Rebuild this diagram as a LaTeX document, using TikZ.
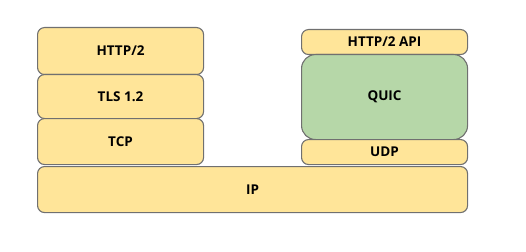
\documentclass[tikz,border=0pt]{standalone}
\usepackage{fontspec}
\setmainfont{Open Sans}
\usepackage{xcolor}
\definecolor{layeryellow}{HTML}{FFE599}
\definecolor{layergreen}{HTML}{B6D7A8}
\definecolor{layerline}{HTML}{707070}
\tikzset{
    layerbox/.style={draw=layerline, line width=1.1pt, rounded corners=7pt, fill=layeryellow, anchor=north west, inner sep=0pt, font=\fontsize{13.5}{15}\selectfont\bfseries},
    quicbox/.style={layerbox, fill=layergreen, rounded corners=14pt}
}
\begin{document}
\begin{tikzpicture}[x=1pt, y=-1pt]
    \useasboundingbox (0,0) rectangle (526,251);
    % TCP stack
    \node[layerbox, minimum width=166pt, minimum height=47pt] (http) at (37,27) {HTTP/2};
    \node[layerbox, minimum width=166pt, minimum height=44pt] (tls) at (37,74) {TLS 1.2};
    \node[layerbox, minimum width=166pt, minimum height=46pt] (tcp) at (37,118) {TCP};
    % QUIC stack
    \node[layerbox, minimum width=166pt, minimum height=25pt] (api) at (301,29) {HTTP/2 API};
    \node[quicbox, minimum width=166pt, minimum height=85pt] (quic) at (301,54) {QUIC};
    \node[layerbox, minimum width=166pt, minimum height=25pt] (udp) at (301,139) {UDP};
    % shared
    \node[layerbox, minimum width=430pt, minimum height=46pt] (ip) at (37,166) {IP};
\end{tikzpicture}
\end{document}
